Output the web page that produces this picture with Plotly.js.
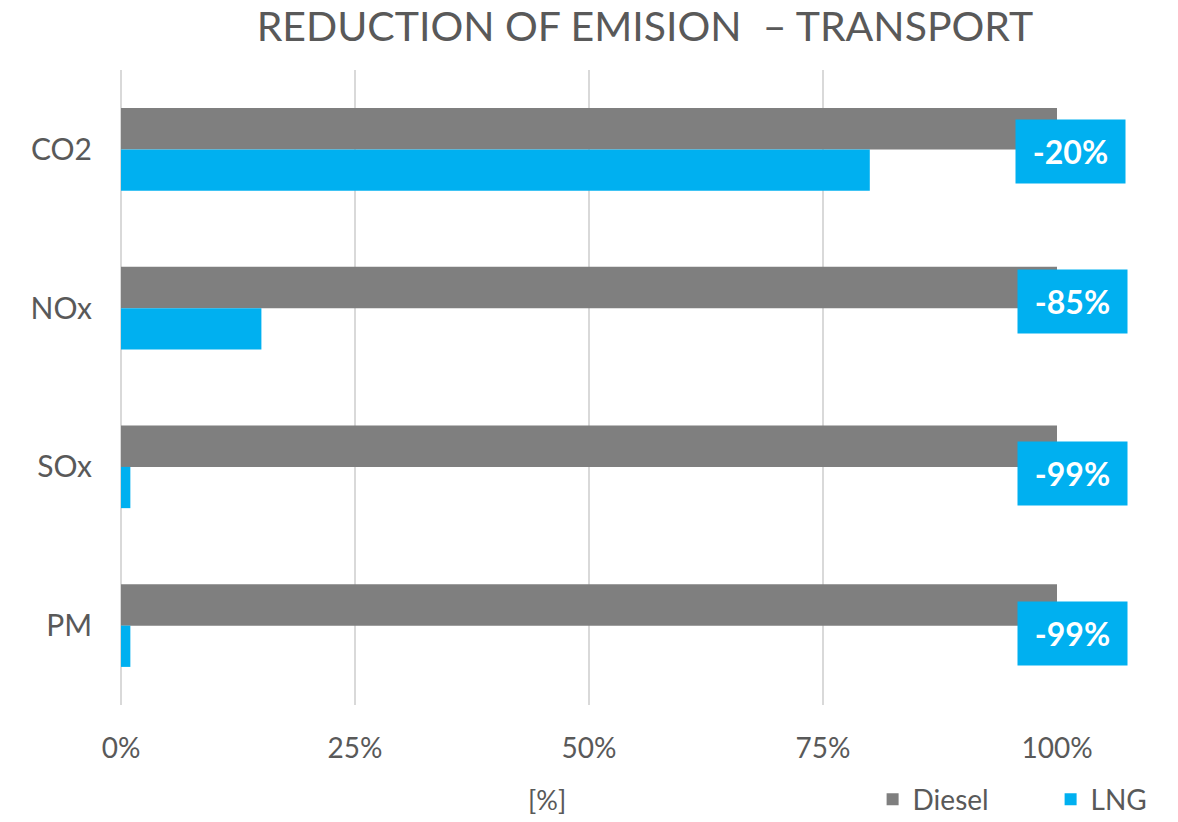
<!DOCTYPE html>
<html><head><meta charset="utf-8">
<script src="https://cdn.plot.ly/plotly-3.0.1.min.js"></script>
<style>html,body{margin:0;padding:0;background:#fff}#c{width:1178px;height:822px}</style>
</head><body><div id="c"></div>
<script>
const categories = ['CO2', 'NOx', 'SOx', 'PM'];
const dieselValues = [100, 100, 100, 100];
const lngValues = [80, 15, 1, 1];
const reductionLabels = ['-20%', '-85%', '-99%', '-99%'];
const tickValues = [0, 25, 50, 75, 100];
const tickLabels = ['0%', '25%', '50%', '75%', '100%'];

const FONT = 'Lato, "Open Sans", sans-serif';
const GREY = '#595959';

const traces = [
  {type: 'bar', orientation: 'h', name: 'Diesel', y: categories, x: dieselValues,
   marker: {color: '#7f7f7f'}, hoverinfo: 'x+y'},
  {type: 'bar', orientation: 'h', name: 'LNG', y: categories, x: lngValues,
   marker: {color: '#00b0f0'}, hoverinfo: 'x+y'}
];

const shifts = [-2, 7, -7, -8];
const xpos = [1.014, 1.017, 1.017, 1.017];
const annotations = categories.map((c, i) => ({
  x: xpos[i], y: c, xref: 'paper', yref: 'y', xanchor: 'center', yanchor: 'middle',
  text: '<b>' + reductionLabels[i] + '</b>',
  showarrow: false, bgcolor: '#00b0f0', width: 107, height: 61,
  font: {family: FONT, size: 32, color: '#ffffff'}, yshift: shifts[i]
}));
annotations.push({
  x: 0.455, y: -0.149, xref: 'paper', yref: 'paper', xanchor: 'center', yanchor: 'middle',
  text: '[%]', showarrow: false,
  font: {family: FONT, size: 27, color: GREY}
});

const layout = {
  width: 1178, height: 822,
  margin: {l: 121, r: 121, t: 70, b: 117, autoexpand: false},
  paper_bgcolor: '#ffffff', plot_bgcolor: '#ffffff',
  title: {text: 'REDUCTION OF EMISION  \u2013 TRANSPORT', x: 0.5475, xanchor: 'center', y: 0.968, yanchor: 'middle',
          font: {family: FONT, size: 41, color: GREY}},
  barmode: 'group', bargap: 0.48, bargroupgap: 0,
  xaxis: {range: [0, 100], tickvals: tickValues, ticktext: tickLabels, showgrid: true,
          gridcolor: '#d9d9d9', gridwidth: 2, zeroline: true, zerolinecolor: '#d9d9d9', zerolinewidth: 2,
          showline: false, ticks: '', ticklabelstandoff: 24, tickfont: {family: FONT, size: 28, color: GREY}},
  yaxis: {autorange: 'reversed', showgrid: false, zeroline: false, showline: false,
          ticks: '', ticklabelstandoff: 28, tickfont: {family: FONT, size: 30, color: GREY}},
  showlegend: true,
  legend: {orientation: 'h', x: 0.803, xanchor: 'left', y: -0.149, yanchor: 'middle',
           font: {family: FONT, size: 28, color: GREY}, entrywidth: 133, entrywidthmode: 'pixels', itemwidth: 30},
  annotations: annotations
};
Plotly.newPlot('c', traces, layout, {staticPlot: true});
</script></body></html>
